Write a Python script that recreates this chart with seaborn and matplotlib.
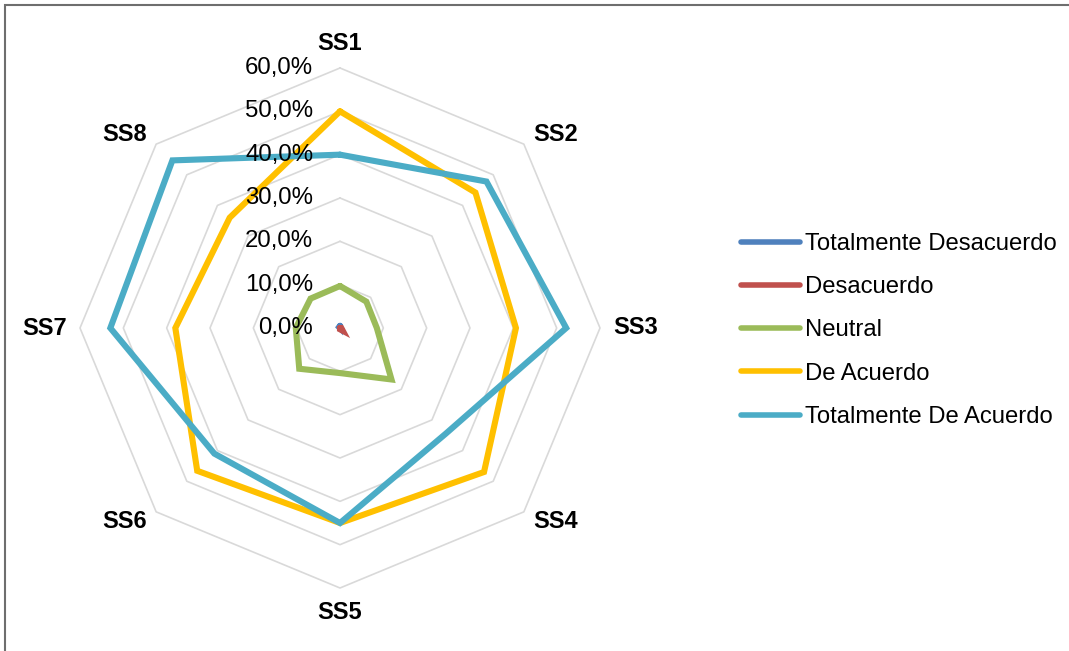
import numpy as np
import pandas as pd
import matplotlib.pyplot as plt
import seaborn as sns
from matplotlib.lines import Line2D
from matplotlib.patches import Rectangle

sns.set_style('white')
plt.rcParams['font.family'] = ['Liberation Sans', 'DejaVu Sans']
plt.rcParams['text.color'] = 'black'

# --- Datos (porcentajes) ---
categorias = ['SS1', 'SS2', 'SS3', 'SS4', 'SS5', 'SS6', 'SS7', 'SS8']
series = ['Totalmente Desacuerdo', 'Desacuerdo', 'Neutral', 'De Acuerdo',
          'Totalmente De Acuerdo']
tot_desacuerdo = [0.5, 0.0, 0.0, 0.0, 0.0, 0.0, 0.0, 0.3]
desacuerdo = [0.0, 0.0, 0.3, 0.9, 0.3, 0.0, 0.0, 0.0]
neutral = [9.7, 8.6, 8.5, 16.8, 10.4, 13.3, 10.2, 9.6]
de_acuerdo = [50.0, 44.2, 40.6, 47.0, 45.0, 46.6, 38.0, 36.0]
tot_acuerdo = [40.0, 47.8, 52.2, 34.5, 45.0, 41.0, 53.0, 54.7]
niveles = [0, 10, 20, 30, 40, 50, 60]
colores = ['#4F81BD', '#C0504D', '#9BBB59', '#FFC000', '#4BACC6']

valores = [tot_desacuerdo, desacuerdo, neutral, de_acuerdo, tot_acuerdo]
n = len(categorias)
ang = 2 * np.pi * np.arange(n) / n  # sentido horario desde arriba

filas = []
for nombre, vals in zip(series, valores):
    for i in list(range(n)) + [0]:
        r = vals[i]
        filas.append({'serie': nombre, 'x': r * np.sin(ang[i]),
                      'y': r * np.cos(ang[i])})
df = pd.DataFrame(filas)

fig = plt.figure(figsize=(10.69, 6.51), dpi=100)
k = 260 / 60  # px por %
ax = fig.add_axes([0, 0, 680 / 1069, 1])
ax.set_xlim(-340 / k, 340 / k)
ax.set_ylim(-323 / k, 328 / k)
ax.axis('off')

# Rejilla poligonal
for lv in niveles[1:]:
    xs = [lv * np.sin(a) for a in ang] + [0]
    ys = [lv * np.cos(a) for a in ang] + [lv]
    ax.plot(xs, ys, color='#d9d9d9', lw=1.2, zorder=1)

sns.lineplot(data=df, x='x', y='y', hue='serie', hue_order=series,
             palette=colores, sort=False, estimator=None, lw=4.4,
             solid_joinstyle='miter', legend=False, ax=ax, zorder=3)

# Etiquetas del eje radial
for lv in niveles:
    ax.text(-6.2, lv, f'{lv},0%', ha='right', va='center',
            fontsize=17.3, color='black')

# Etiquetas de categorías
for a, cat in zip(ang, categorias):
    s, c = np.sin(a), np.cos(a)
    ha = 'center' if abs(s) < 0.1 else ('left' if s > 0 else 'right')
    va = 'center'
    if abs(s) < 0.1:
        va = 'bottom' if c > 0 else 'top'
    ax.text(63 * s, 63 * c, cat, ha=ha, va=va, fontsize=17,
            fontweight='bold', color='black')

handles = [Line2D([0], [0], color=col, lw=4, solid_capstyle='round')
           for col in colores]
leg = fig.legend(handles, series, loc='center left',
                 bbox_to_anchor=(741 / 1069, 1 - 330.5 / 651), frameon=False,
                 fontsize=17.2, handlelength=2.45, handletextpad=0.22,
                 labelspacing=0.89, borderpad=0, borderaxespad=0)
for t in leg.get_texts():
    t.set_color('black')

fig.patches.append(Rectangle((5 / 1069, -0.1), 2, 1.1 - 5 / 651,
                             transform=fig.transFigure, fill=False,
                             edgecolor='#6e6e6e', lw=1.5))

fig.savefig('out.png', dpi=100)
